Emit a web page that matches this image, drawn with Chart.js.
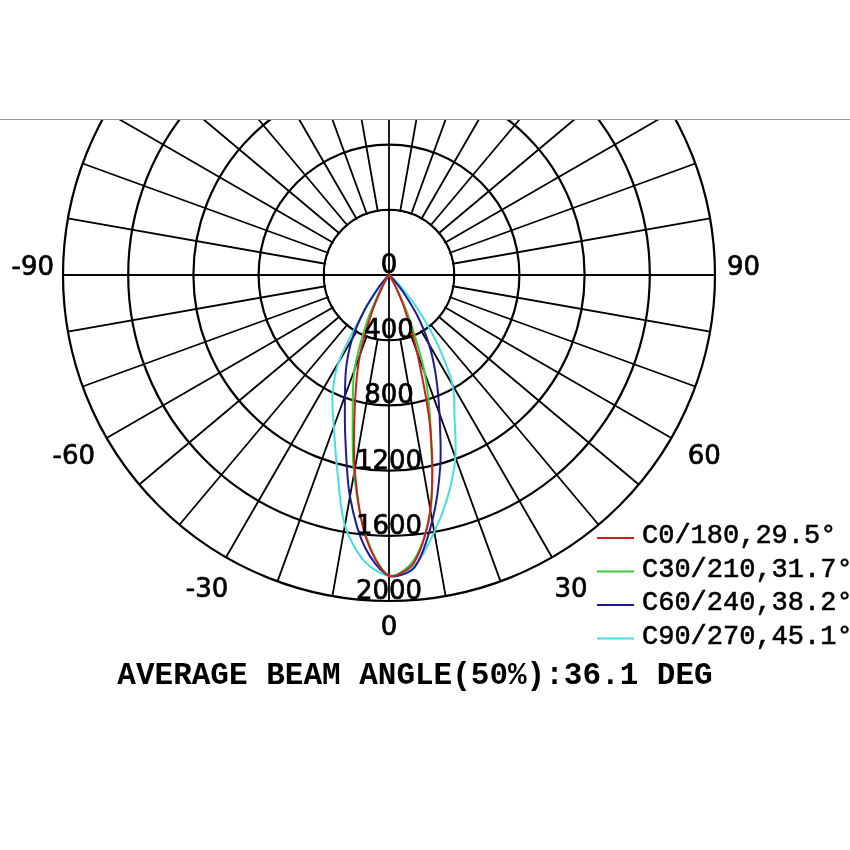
<!DOCTYPE html>
<html>
<head>
<meta charset="utf-8">
<script src="https://cdn.jsdelivr.net/npm/chart.js@4.4.0/dist/chart.umd.min.js"></script>
<style>
  html, body { margin: 0; padding: 0; background: #fff; }
  body { width: 850px; height: 850px; position: relative; overflow: hidden; }
  #frame { position: absolute; left: 0; top: 119px; width: 850px; height: 731px; overflow: hidden; border-top: 1px solid #9a9a9a; }
  #polarChart { position: absolute; left: 0; top: -171px; }
</style>
</head>
<body>
<div id="frame">
  <canvas id="polarChart" width="850" height="901"></canvas>
</div>
<script>
// gamma angles (deg) of the lower half, -90 .. 90 every 5
const gammaAngles = [-90, -85, -80, -75, -70, -65, -60, -55, -50, -45, -40, -35, -30, -25, -20, -15, -10, -5,
  0, 5, 10, 15, 20, 25, 30, 35, 40, 45, 50, 55, 60, 65, 70, 75, 80, 85, 90];

// intensity (cd) per plane
const c0_180 = [0, 0, 0, 0, 0, 0, 0, 0, 0, 0, 0, 15, 70, 240, 520, 805, 1210, 1620,
  1845, 1770, 1460, 980, 500, 220, 70, 15, 0, 0, 0, 0, 0, 0, 0, 0, 0, 0, 0];
const c30_210 = [0, 0, 0, 0, 0, 0, 0, 0, 0, 0, 0, 25, 110, 330, 620, 860, 1235, 1610,
  1845, 1755, 1470, 990, 640, 290, 90, 20, 0, 0, 0, 0, 0, 0, 0, 0, 0, 0, 0];
const c60_240 = [0, 0, 0, 0, 0, 0, 0, 0, 5, 25, 100, 260, 450, 620, 790, 1035, 1380, 1680,
  1845, 1800, 1530, 1215, 905, 680, 490, 300, 130, 40, 10, 0, 0, 0, 0, 0, 0, 0, 0];
const c90_270 = [0, 0, 0, 0, 0, 0, 0, 0, 0, 15, 70, 250, 620, 820, 990, 1230, 1560, 1760,
  1845, 1790, 1600, 1400, 1190, 950, 780, 520, 280, 110, 30, 5, 0, 0, 0, 0, 0, 0, 0];

const seriesNames = ['C0/180,29.5°', 'C30/210,31.7°', 'C60/240,38.2°', 'C90/270,45.1°'];
const seriesColors = ['#c8201e', '#3ccc3c', '#1c1c96', '#46dede'];

const ringTicks = [0, 400, 800, 1200, 1600, 2000];
const angleTicks = [-90, -60, -30, 0, 30, 60, 90];
const chartTitle = 'AVERAGE BEAM ANGLE(50%):36.1 DEG';

// radar needs a full turn: index 0 = gamma 0 (bottom), going clockwise toward -90
const STEP = 5;
const slots = 360 / STEP;
function gammaOf(i) { return i <= slots / 2 ? -i * STEP : 360 - i * STEP; }
function indexOf(g) { return g <= 0 ? -g / STEP : slots - g / STEP; }
const radarLabels = [];
for (let i = 0; i < slots; i++) radarLabels.push(String(gammaOf(i)));

function toRadar(values) {
  return radarLabels.map((l, i) => {
    const k = gammaAngles.indexOf(gammaOf(i));
    return k === -1 ? 0 : values[k];
  });
}

// text a bit heavier, like the scanned original
function heavyText(ctx, txt, x, y, w) {
  ctx.lineWidth = w;
  ctx.strokeStyle = ctx.fillStyle;
  ctx.strokeText(txt, x, y);
  ctx.fillText(txt, x, y);
}

const polarDecor = {
  id: 'polarDecor',
  beforeDatasetsDraw(chart) {
    const r = chart.scales.r;
    const ctx = chart.ctx;
    const inner = r.getDistanceFromCenterForValue(ringTicks[1]);
    ctx.save();
    // the spokes start at the first ring, only the axes cross the centre
    ctx.fillStyle = '#fff';
    ctx.beginPath();
    ctx.arc(r.xCenter, r.yCenter, inner - 1.2, 0, Math.PI * 2);
    ctx.fill();
    ctx.strokeStyle = '#000';
    ctx.lineWidth = 1.8;
    [0, 90, 180, -90].forEach(g => {
      const p = r.getPointPosition(indexOf(g), inner);
      ctx.beginPath();
      ctx.moveTo(r.xCenter, r.yCenter);
      ctx.lineTo(p.x, p.y);
      ctx.stroke();
    });
    ctx.restore();
  },
  afterDraw(chart) {
    const r = chart.scales.r;
    const ctx = chart.ctx;
    const R = r.getDistanceFromCenterForValue(ringTicks[ringTicks.length - 1]);
    ctx.save();
    ctx.fillStyle = '#000';
    ctx.font = '26px "DejaVu Sans"';
    // ring values along the 0 axis
    ctx.textAlign = 'center';
    ctx.textBaseline = 'alphabetic';
    ringTicks.forEach(v => {
      heavyText(ctx, String(v), r.xCenter, r.yCenter + r.getDistanceFromCenterForValue(v) - 2, 0.7);
    });
    // gamma labels
    angleTicks.forEach(g => {
      if (Math.abs(g) === 90) {
        const p = r.getPointPosition(indexOf(g), R + (g < 0 ? 9 : 12));
        ctx.textAlign = g < 0 ? 'right' : 'left';
        ctx.textBaseline = 'alphabetic';
        heavyText(ctx, String(g), p.x, p.y, 0.7);
      } else {
        const p = r.getPointPosition(indexOf(g), R + (g === 0 ? 27 : 38));
        ctx.textAlign = 'center';
        ctx.textBaseline = 'middle';
        heavyText(ctx, String(g), p.x, p.y, 0.7);
      }
    });
    // legend
    ctx.font = '27px "Liberation Mono"';
    ctx.textAlign = 'left';
    ctx.textBaseline = 'middle';
    chart.data.datasets.forEach((ds, i) => {
      const y = r.yCenter + 263 + i * 33.5;
      ctx.strokeStyle = ds.borderColor;
      ctx.lineWidth = 2;
      ctx.beginPath();
      ctx.moveTo(597, y);
      ctx.lineTo(634, y);
      ctx.stroke();
      ctx.fillStyle = '#000';
      heavyText(ctx, ds.label, 642, y - 2, 0.6);
    });
    // title
    ctx.font = 'bold 31px "Liberation Mono"';
    ctx.textAlign = 'center';
    ctx.fillText(chartTitle, 415, r.yCenter + 401);
    ctx.restore();
  }
};

function initPolarChart() {
  const el = document.getElementById('polarChart');
  const seriesData = [c0_180, c30_210, c60_240, c90_270];
  new Chart(el.getContext('2d'), {
    type: 'radar',
    data: {
      labels: radarLabels,
      datasets: seriesData.map((vals, i) => ({
        label: seriesNames[i],
        data: toRadar(vals),
        borderColor: seriesColors[i],
        borderWidth: 2,
        fill: false,
        pointRadius: 0,
        tension: 0.3
      }))
    },
    options: {
      responsive: false,
      animation: false,
      layout: { padding: { left: 63, right: 135, top: 0, bottom: 249 } },
      plugins: {
        legend: { display: false },
        tooltip: { enabled: false }
      },
      scales: {
        r: {
          startAngle: 180,
          min: 0,
          max: 2000,
          ticks: { stepSize: 400, display: false },
          pointLabels: { display: false },
          grid: { circular: true, color: '#000', lineWidth: 2.2 },
          angleLines: {
            color: '#000',
            lineWidth: ctx => (gammaOf(ctx.index) % 10 === 0 ? 1.8 : 0)
          }
        }
      }
    },
    plugins: [polarDecor]
  });
}

document.addEventListener('DOMContentLoaded', initPolarChart);
</script>
</body>
</html>
